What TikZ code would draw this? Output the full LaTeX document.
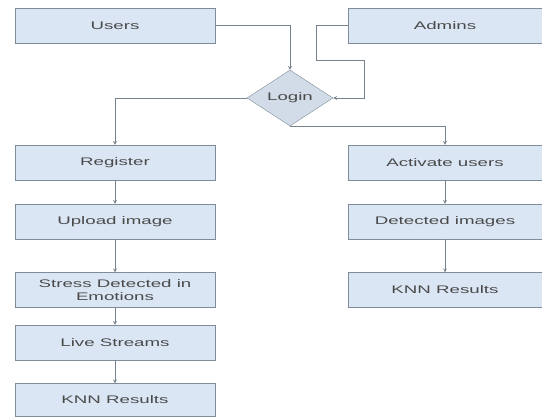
\documentclass[tikz,border=0pt]{standalone}
\usepackage{fontspec}
\usepackage{tikz}
\usetikzlibrary{arrows}
\usetikzlibrary{shapes.geometric}
\newfontfamily\boxfont[FakeStretch=1.7]{Liberation Sans}
\definecolor{boxblue}{HTML}{DAE6F4}
\definecolor{boxline}{HTML}{7F8C99}
\definecolor{flowline}{HTML}{76828E}
\definecolor{boxtext}{HTML}{4A4A4A}

\begin{document}
\begin{tikzpicture}[x=1pt, y=-1pt,
  box/.style={rectangle, draw=boxline, fill=boxblue, minimum width=200pt, minimum height=35pt,
    inner sep=1pt, align=center, text=boxtext, font=\boxfont\fontsize{11}{13}\selectfont},
  flow/.style={draw=flowline, line width=0.7pt, -stealth}]

\useasboundingbox (0,0) rectangle (542,417);

% First, define nodes
\draw (115,25.5) node[box] (users) {Users};
\draw (445,25.5) node[box, minimum width=194pt] (admins) {Admins};
\draw (290,98) node[diamond, draw=boxline, fill=boxblue!90!gray, text=boxtext, inner sep=0pt,
  minimum width=86pt, minimum height=43pt, font=\boxfont\fontsize{11}{13}\selectfont] (login) {Login};

% left column
\draw (115,162.5) node[box] (register) {Register};
\draw (115,221.5) node[box] (upload) {Upload image};
\draw (115,290) node[box] (stress) {Stress Detected in\\Emotions};
\draw (115,342.5) node[box] (live) {Live Streams};
\draw (115,400) node[box, minimum height=33pt] (knnuser) {KNN Results};

% right column
\draw (445,162.5) node[box, minimum width=194pt] (activate) {Activate users};
\draw (445,221.5) node[box, minimum width=194pt] (detected) {Detected images};
\draw (445,290) node[box, minimum width=194pt] (knnadmin) {KNN Results};

% the bend points of the admins line
\coordinate (a1) at (316,60);
\coordinate (a2) at (364,60);

% Now the connectors
\draw[flow] (users.east) -| (login.north);
\draw[flow] (admins.west) -| (a1) -- (a2) |- (login.east);
\draw[flow] (login.west) -| (register.north);
\draw[flow] (login.south) -| (activate.north);

\draw[flow] (register) -- (upload);
\draw[flow] (upload) -- (stress);
\draw[flow] (stress) -- (live);
\draw[flow] (live) -- (knnuser);

\draw[flow] (activate) -- (detected);
\draw[flow] (detected) -- (knnadmin);

\end{tikzpicture}
\end{document}
